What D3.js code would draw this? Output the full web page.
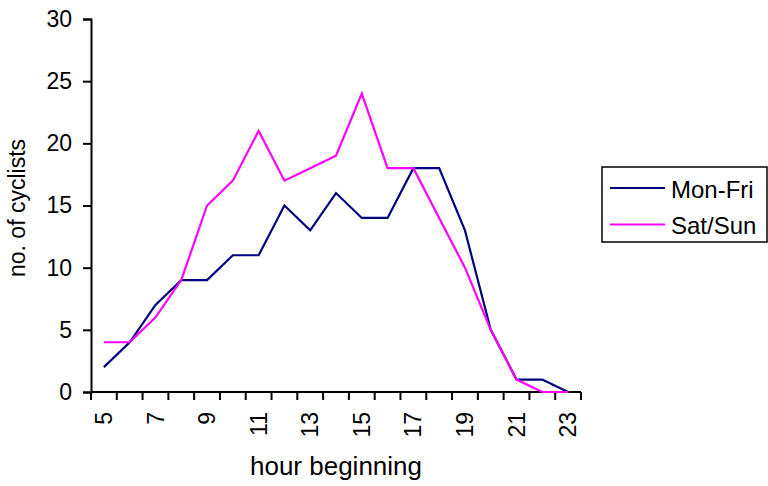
<!DOCTYPE html>
<html>
<head>
<meta charset="utf-8">
<script src="https://cdn.jsdelivr.net/npm/d3@7/dist/d3.min.js"></script>
<style>
  html, body { margin: 0; padding: 0; background: #fff; }
  svg text { font-family: "Liberation Sans", Arial, sans-serif; fill: #000; }
</style>
</head>
<body>
<svg id="chart" width="768" height="486"></svg>
<script>
// Hourly cyclist counts, by hour beginning
const hours = [5, 6, 7, 8, 9, 10, 11, 12, 13, 14, 15, 16, 17, 18, 19, 20, 21, 22, 23];
const monFri = [2, 4, 7, 9, 9, 11, 11, 15, 13, 16, 14, 14, 18, 18, 13, 5, 1, 1, 0];
const satSun = [4, 4, 6, 9, 15, 17, 21, 17, 18, 19, 24, 18, 18, 14, 10, 5, 1, 0, 0];
const seriesNames = ["Mon-Fri", "Sat/Sun"];
const seriesColors = ["#000080", "#FF00FF"];
const yTicks = [0, 5, 10, 15, 20, 25, 30];
const xLabelHours = [5, 7, 9, 11, 13, 15, 17, 19, 21, 23];

const svg = d3.select("#chart");
const plot = { left: 91, right: 581, top: 19, bottom: 392 };

const x = d3.scaleBand().domain(hours).range([plot.left, plot.right]).paddingInner(0).paddingOuter(0);
const y = d3.scaleLinear().domain([0, 30]).range([plot.bottom, plot.top]);

// Y axis
const yAxis = svg.append("g").attr("transform", `translate(${plot.left},0)`)
  .call(d3.axisLeft(y).tickValues(yTicks).tickSize(8).tickPadding(11));
yAxis.attr("font-size", null).attr("font-family", null);
yAxis.select(".domain").attr("stroke", "#000").attr("stroke-width", 2);
yAxis.selectAll(".tick line").attr("stroke", "#000").attr("stroke-width", 2);
yAxis.selectAll(".tick text").style("font-size", "23px");

// X axis: ticks sit between categories, labels on every other hour
const xAxisG = svg.append("g").attr("transform", `translate(0,${plot.bottom})`);
xAxisG.append("line")
  .attr("x1", plot.left).attr("x2", plot.right)
  .attr("stroke", "#000").attr("stroke-width", 2);
const boundaries = hours.map(h => x(h)).concat([x(hours[hours.length - 1]) + x.bandwidth()]);
xAxisG.selectAll("line.tick").data(boundaries).join("line")
  .attr("class", "tick")
  .attr("x1", d => d).attr("x2", d => d)
  .attr("y1", 0).attr("y2", 8)
  .attr("stroke", "#000").attr("stroke-width", 2);
xAxisG.selectAll("text.lbl").data(xLabelHours).join("text")
  .attr("class", "lbl")
  .attr("transform", d => `translate(${x(d) + x.bandwidth() / 2},20) rotate(-90)`)
  .attr("text-anchor", "end")
  .attr("dy", "0.35em")
  .style("font-size", "23px")
  .text(d => d);

// Axis titles
svg.append("text")
  .attr("x", 336).attr("y", 475)
  .attr("text-anchor", "middle").style("font-size", "26px")
  .text("hour beginning");
svg.append("text")
  .attr("transform", `translate(25,208) rotate(-90)`)
  .attr("text-anchor", "middle").style("font-size", "23px")
  .text("no. of cyclists");

// Lines
const line = d3.line()
  .x((d, i) => x(hours[i]) + x.bandwidth() / 2)
  .y(d => y(d));
[monFri, satSun].forEach((vals, k) => {
  svg.append("path")
    .datum(vals)
    .attr("fill", "none")
    .attr("stroke", seriesColors[k])
    .attr("stroke-width", 2.2)
    .attr("stroke-linejoin", "miter")
    .attr("d", line);
});

// Legend
const legend = svg.append("g");
legend.append("rect")
  .attr("x", 602).attr("y", 167).attr("width", 165).attr("height", 75)
  .attr("fill", "#fff").attr("stroke", "#000").attr("stroke-width", 1.5);
seriesNames.forEach((name, i) => {
  const cy = 188 + i * 36.5;
  legend.append("line")
    .attr("x1", 610).attr("x2", 665).attr("y1", cy).attr("y2", cy)
    .attr("stroke", seriesColors[i]).attr("stroke-width", 2.2);
  legend.append("text")
    .attr("x", 671).attr("y", cy).attr("dy", "0.4em")
    .style("font-size", "24px")
    .text(name);
});
</script>
</body>
</html>
